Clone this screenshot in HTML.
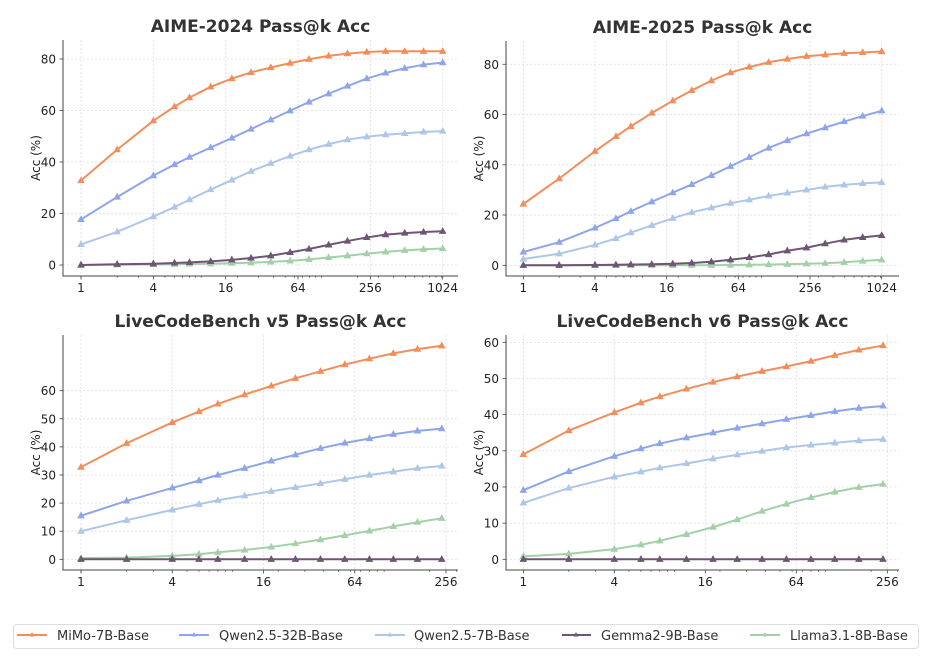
<!DOCTYPE html>
<html><head><meta charset="utf-8"><style>
body{margin:0;background:#fff;width:937px;height:659px;overflow:hidden;font-family:"DejaVu Sans","Liberation Sans",sans-serif}
svg text{font-family:"DejaVu Sans","Liberation Sans",sans-serif}
</style></head><body>
<svg id="chart" width="937" height="659" viewBox="0 0 937 659" xmlns="http://www.w3.org/2000/svg">
<g id="panels"></g>
<g>
<rect x="13.5" y="624.5" width="905" height="24" rx="3" fill="#fff" stroke="#ddd"/>
<g><line x1="17" y1="635" x2="47" y2="635" stroke="#f28e5b" stroke-width="2"/><path d="M32 632 L29.5 636.5 L34.5 636.5Z" fill="#f28e5b"/><text x="57" y="640" font-size="13" fill="#333">MiMo-7B-Base</text></g>
<g><line x1="179" y1="635" x2="209" y2="635" stroke="#8fa5ea" stroke-width="2"/><path d="M194 632 L191.5 636.5 L196.5 636.5Z" fill="#8fa5ea"/><text x="219" y="640" font-size="13" fill="#333">Qwen2.5-32B-Base</text></g>
<g><line x1="375" y1="635" x2="405" y2="635" stroke="#aec6e8" stroke-width="2"/><path d="M390 632 L387.5 636.5 L392.5 636.5Z" fill="#aec6e8"/><text x="414" y="640" font-size="13" fill="#333">Qwen2.5-7B-Base</text></g>
<g><line x1="562" y1="635" x2="591" y2="635" stroke="#6e5573" stroke-width="2"/><path d="M576 632 L573.5 636.5 L578.5 636.5Z" fill="#6e5573"/><text x="601" y="640" font-size="13" fill="#333">Gemma2-9B-Base</text></g>
<g><line x1="750" y1="635" x2="780" y2="635" stroke="#a3d0a8" stroke-width="2"/><path d="M765 632 L762.5 636.5 L767.5 636.5Z" fill="#a3d0a8"/><text x="790" y="640" font-size="13" fill="#333">Llama3.1-8B-Base</text></g>
</g>
</svg>
<script>
const kAIME = [1,2,4,6,8,12,18,26,38,55,79,115,165,239,343,495,709,1024];
const kLCB = [1,2,4,6,8,12,18,26,38,55,80,115,166,240];
const seriesNames = ["MiMo-7B-Base","Qwen2.5-32B-Base","Qwen2.5-7B-Base","Gemma2-9B-Base","Llama3.1-8B-Base"];
const seriesColors = ["#f28e5b","#8fa5ea","#aec6e8","#6e5573","#a3d0a8"];
const aime24Mimo = [32.8,44.8,56,61.5,65,69.2,72.4,74.8,76.7,78.4,79.9,81.2,82.1,82.7,83,83,83,83];
const aime24Qwen32 = [17.7,26.4,34.7,39,41.9,45.6,49.3,52.8,56.4,59.9,63.3,66.5,69.5,72.4,74.6,76.4,77.8,78.6];
const aime24Qwen7 = [8,12.9,18.8,22.5,25.4,29.3,33,36.4,39.5,42.3,44.8,46.9,48.7,49.8,50.6,51.1,51.7,52];
const aime24Gemma = [0,0.3,0.5,0.8,1,1.4,2,2.7,3.6,4.9,6.2,7.8,9.3,10.7,11.8,12.4,12.8,13.1];
const aime24Llama = [0,0.1,0.2,0.3,0.4,0.5,0.7,0.9,1.2,1.6,2.2,2.9,3.6,4.4,5.1,5.7,6.1,6.4];
const aime25Mimo = [24.4,34.5,45.4,51.3,55.3,60.6,65.5,69.6,73.5,76.7,78.9,80.8,82.1,83.2,83.8,84.4,84.7,85.1];
const aime25Qwen32 = [5.3,9.2,14.9,18.6,21.5,25.3,28.9,32.2,35.8,39.4,43,46.7,49.7,52.4,54.8,57.2,59.4,61.5];
const aime25Qwen7 = [2.5,4.6,8.1,10.7,13,15.9,18.7,21.1,22.9,24.7,26.1,27.6,28.8,30,31.2,32,32.6,33];
const aime25Gemma = [0,0,0.1,0.2,0.3,0.4,0.6,0.9,1.4,2.2,3.1,4.3,5.8,7.0,8.6,10.1,11.1,11.9];
const aime25Llama = [0,0,0,0,0,0,0,0,0,0.1,0.2,0.3,0.4,0.6,0.8,1.2,1.7,2.2];
const lcb5Mimo = [32.8,41.3,48.7,52.6,55.3,58.6,61.7,64.4,66.9,69.3,71.4,73.3,74.8,76];
const lcb5Qwen32 = [15.5,20.8,25.4,28,30,32.4,35,37.2,39.5,41.4,43,44.5,45.7,46.5];
const lcb5Qwen7 = [10,13.9,17.6,19.6,21,22.6,24.2,25.6,27,28.5,30,31.2,32.4,33.2];
const lcb5Gemma = [0,0,0,0,0,0,0,0,0,0,0,0,0,0];
const lcb5Llama = [0.4,0.6,1.2,1.8,2.5,3.3,4.4,5.6,7,8.5,10.1,11.7,13.2,14.6];
const lcb6Mimo = [29,35.6,40.6,43.3,45,47.1,49,50.5,52,53.3,54.8,56.4,57.9,59.1];
const lcb6Qwen32 = [19.1,24.3,28.5,30.6,32,33.6,35,36.3,37.5,38.7,39.8,40.9,41.8,42.4];
const lcb6Qwen7 = [15.6,19.7,22.8,24.2,25.3,26.5,27.8,28.9,29.9,30.9,31.6,32.2,32.8,33.2];
const lcb6Gemma = [0,0,0,0,0,0,0,0,0,0,0,0,0,0];
const lcb6Llama = [0.8,1.5,2.8,4,5.1,6.9,8.9,11,13.3,15.3,17.1,18.6,19.9,20.8];
const xTicksAIME = [1,4,16,64,256,1024];
const xTicksLCB = [1,4,16,64,256];
const yTicksAIME = [0,20,40,60,80];
const yTicksLCB5 = [0,10,20,30,40,50,60];
const yTicksLCB6 = [0,10,20,30,40,50,60];

const panels = [
 {name:"aime-2024",title:"AIME-2024 Pass@k Acc",L:63,R:458,T:40,B:276,x0:81,x1:442.7,k1:1024,y0:265,yv:80,yp:59,ks:kAIME,xt:xTicksAIME,yt:yTicksAIME,
  s:[aime24Mimo,aime24Qwen32,aime24Qwen7,aime24Gemma,aime24Llama]},
 {name:"aime-2025",title:"AIME-2025 Pass@k Acc",L:506,R:899,T:41,B:276,x0:523.3,x1:881.7,k1:1024,y0:265.3,yv:80,yp:64.3,ks:kAIME,xt:xTicksAIME,yt:yTicksAIME,
  s:[aime25Mimo,aime25Qwen32,aime25Qwen7,aime25Gemma,aime25Llama]},
 {name:"lcb-v5",title:"LiveCodeBench v5 Pass@k Acc",L:63,R:458,T:335,B:570,x0:81,x1:446,k1:256,y0:559.3,yv:60,yp:390.7,ks:kLCB,xt:xTicksLCB,yt:yTicksLCB5,
  s:[lcb5Mimo,lcb5Qwen32,lcb5Qwen7,lcb5Gemma,lcb5Llama]},
 {name:"lcb-v6",title:"LiveCodeBench v6 Pass@k Acc",L:506,R:899,T:335,B:570,x0:523.3,x1:887.3,k1:256,y0:559.3,yv:60,yp:342.3,ks:kLCB,xt:xTicksLCB,yt:yTicksLCB6,
  s:[lcb6Mimo,lcb6Qwen32,lcb6Qwen7,lcb6Gemma,lcb6Llama]}
];
const NS="http://www.w3.org/2000/svg";
const root=document.getElementById("panels");
function mk(tag,attrs,parent){const e=document.createElementNS(NS,tag);for(const a in attrs)e.setAttribute(a,attrs[a]);parent.appendChild(e);return e;}
const drawOrder=[4,3,2,1,0];
panels.forEach(p=>{
 const g=mk("g",{},root);
 
 
 const xs=k=>p.x0+(p.x1-p.x0)*Math.log2(k)/Math.log2(p.k1);
 const ys=v=>p.y0-(p.y0-p.yp)*v/p.yv;
 p.xt.forEach(t=>{const l=mk("line",{x1:xs(t),x2:xs(t),y1:p.T,y2:p.B,stroke:"#ddd","stroke-width":0.8,"stroke-dasharray":"2,2"},g);
  });
 p.yt.forEach(t=>{const l=mk("line",{x1:p.L,x2:p.R,y1:ys(t),y2:ys(t),stroke:"#ddd","stroke-width":0.8,"stroke-dasharray":"2,2"},g);
  });
 const ax=mk("path",{d:`M${p.L} ${p.T} L${p.L} ${p.B} L${p.R} ${p.B}`,fill:"none",stroke:"#444","stroke-width":1},g);
 
 for(let e=0;Math.pow(10,e)<=p.k1*2;e++){for(let m=1;m<10;m++){const v=m*Math.pow(10,e);const x=xs(v);if(x>p.L&&x<p.R){mk("line",{x1:x,x2:x,y1:p.B,y2:p.B+2,stroke:"#444","stroke-width":0.6},g);}}}
 p.xt.forEach(t=>{mk("line",{x1:xs(t),x2:xs(t),y1:p.B,y2:p.B+3.5,stroke:"#444","stroke-width":0.8},g);
  const tx=mk("text",{x:xs(t),y:p.B+16,"font-size":12,"text-anchor":"middle",fill:"#222"},g);tx.textContent=t;
  });
 p.yt.forEach(t=>{mk("line",{x1:p.L-3.5,x2:p.L,y1:ys(t),y2:ys(t),stroke:"#444","stroke-width":0.8},g);
  const tx=mk("text",{x:p.L-7,y:ys(t)+4.5,"font-size":12,"text-anchor":"end",fill:"#222"},g);tx.textContent=t;
  });
 const cy=(p.T+p.B)/2;
 const yl=mk("text",{x:p.L-23,y:cy,"font-size":12,"text-anchor":"middle",fill:"#222",transform:`rotate(-90 ${p.L-23} ${cy})`},g);yl.textContent="Acc (%)";
 
 const ti=mk("text",{x:(p.L+p.R)/2,y:p.T-8,"font-size":17,"font-weight":"bold","text-anchor":"middle",fill:"#333"},g);ti.textContent=p.title;
 
 drawOrder.forEach(si=>{
  const vals=p.s[si];const col=seriesColors[si];
  const sg=mk("g",{},g);
  
  
  const pts=vals.map((v,i)=>xs(p.ks[i]).toFixed(2)+","+ys(v).toFixed(2)).join(" ");
  const pl=mk("polyline",{points:pts,fill:"none",stroke:col,"stroke-width":2,"stroke-linejoin":"round"},sg);
  
  vals.forEach((v,i)=>{const x=xs(p.ks[i]),y=ys(v);
   const m=mk("path",{d:`M${x} ${y-4.2} L${x-3.8} ${y+2.6} L${x+3.8} ${y+2.6}Z`,fill:col},sg);
   });
 });
});
</script>
</body></html>
